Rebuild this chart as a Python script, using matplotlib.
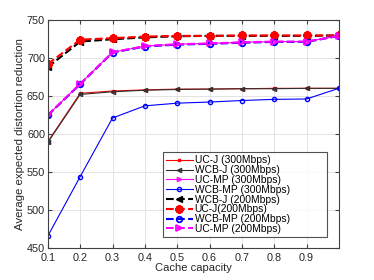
import matplotlib
matplotlib.use("Agg")
import matplotlib.pyplot as plt
import numpy as np

plt.rcParams['font.family'] = ['Liberation Sans', 'DejaVu Sans']

# cache capacity
cache = [0.1, 0.2, 0.3, 0.4, 0.5, 0.6, 0.7, 0.8, 0.9, 1.0]

# 300Mbps
ucj_300 = [590, 653.5, 656.5, 658, 659, 659, 659.5, 660, 660, 660]
wcbj_300 = [589, 652, 655.5, 657.5, 658.5, 659, 659.5, 659.5, 660, 660]
ucmp_300 = [625, 666, 707.5, 715.5, 718, 719, 720.5, 721.5, 721.5, 729]
wcbmp_300 = [466, 544, 621, 637, 640.5, 642, 644, 645.5, 646, 660]

# 200Mbps
wcbj_200 = [688, 721.5, 724.5, 727, 728.5, 729, 729, 729, 729, 729.5]
ucj_200 = [692, 724, 726, 728, 729, 729, 729.5, 729.5, 729.5, 729.5]
wcbmp_200 = [624.5, 665.5, 707, 715, 717.5, 718.5, 720, 721, 721, 729]
ucmp_200 = [625, 666, 707.5, 715.5, 718, 719, 720.5, 721.5, 721.5, 729]

xticks = [0.1, 0.2, 0.3, 0.4, 0.5, 0.6, 0.7, 0.8, 0.9]
yticks = [450, 500, 550, 600, 650, 700, 750]

fig = plt.figure(figsize=(3.74, 2.80), dpi=100)
ax = fig.add_axes([0.128, 0.114, 0.778, 0.815])

ax.plot(cache, ucj_300, '-', color='red', lw=0.8, marker='s', ms=2, label='UC-J (300Mbps)')
ax.plot(cache, wcbj_300, '-', color='#303030', lw=0.8, marker='<', ms=3, mfc='none', label='WCB-J (300Mbps)')
ax.plot(cache, ucmp_300, '-', color='magenta', lw=0.8, marker='>', ms=3, mfc='none', label='UC-MP (300Mbps)')
ax.plot(cache, wcbmp_300, '-', color='blue', lw=0.8, marker='o', ms=3, mfc='none', label='WCB-MP (300Mbps)')
ax.plot(cache, wcbj_200, '--', color='black', lw=1.5, marker='<', ms=5, label='WCB-J (200Mbps)')
ax.plot(cache, ucj_200, '--', color='red', lw=1.5, marker=(8, 2, 0), ms=6, mew=1.8, label='UC-J(200Mbps)')
ax.plot(cache, wcbmp_200, '--', color='blue', lw=1.5, marker='o', ms=4, mfc='none', mew=1.3, label='WCB-MP (200Mbps)')
ax.plot(cache, ucmp_200, '--', color='magenta', lw=1.5, marker='>', ms=5, mfc='none', mew=1.3, label='UC-MP (200Mbps)')

ax.set_xlim(0.1, 1.0)
ax.set_ylim(450, 750)
ax.set_xticks(xticks)
ax.set_yticks(yticks)
ax.tick_params(direction='in', labelsize=7.8, length=3, top=True, right=True, pad=2,
               color='#404040', labelcolor='#262626')
ax.tick_params(axis='x', pad=3.5)
ax.grid(True, color='#e3e3e3', lw=0.7)
for s in ax.spines.values():
    s.set_color('#404040')
    s.set_linewidth(0.8)

ax.set_xlabel('Cache capacity', fontsize=8, color='#262626', labelpad=0)
ax.set_ylabel('Average expected distortion reduction', fontsize=8.2, color='#262626', labelpad=1)

leg = ax.legend(loc='lower left', bbox_to_anchor=(0.395, 0.048, 0.564, 0.37), mode='expand',
                fontsize=7.4, frameon=True, fancybox=False, edgecolor='#262626',
                handlelength=2.6, labelspacing=-0.02, borderpad=0.3, handletextpad=0.2,
                borderaxespad=0)
leg.get_frame().set_linewidth(0.8)

fig.savefig('out.png', dpi=100)
